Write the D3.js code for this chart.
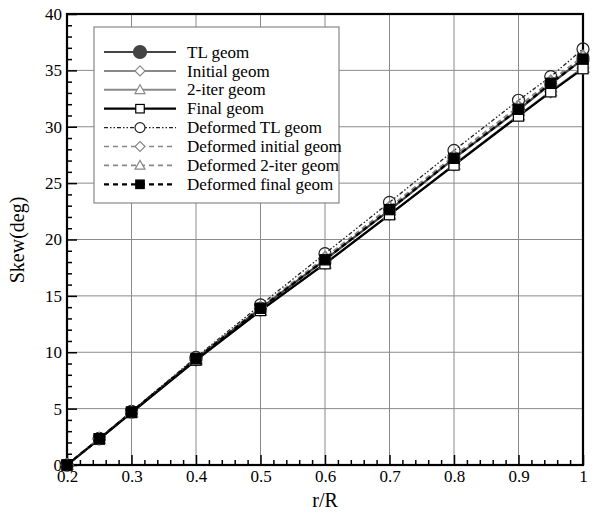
<!DOCTYPE html>
<html><head><meta charset="utf-8">
<script src="https://cdn.jsdelivr.net/npm/d3@7"></script>
<style>body{margin:0;background:#fff}svg{display:block}</style>
</head><body><svg id="c" width="601" height="522"></svg>
<script>
const rR = [0.2,0.25,0.3,0.4,0.5,0.6,0.7,0.8,0.9,0.95,1.0];
const tlGeom       = [0,2.33,4.70,9.42,13.90,18.20,22.60,27.20,31.50,33.80,36.00];
const initialGeom  = [0,2.30,4.65,9.30,13.70,17.85,22.20,26.60,31.00,33.10,35.20];
const iter2Geom    = [0,2.30,4.65,9.30,13.70,17.85,22.20,26.65,31.00,33.15,35.25];
const finalGeom    = [0,2.30,4.65,9.30,13.70,17.85,22.20,26.60,30.95,33.10,35.15];
const defTlGeom    = [0,2.36,4.76,9.55,14.20,18.75,23.30,27.90,32.35,34.45,36.90];
const defInitGeom  = [0,2.34,4.72,9.45,14.00,18.40,22.85,27.40,31.80,34.05,36.25];
const defIter2Geom = [0,2.34,4.72,9.45,14.00,18.40,22.85,27.40,31.80,34.05,36.25];
const defFinalGeom = [0,2.33,4.70,9.42,13.90,18.20,22.65,27.20,31.55,33.85,36.00];
const seriesNames = ["TL geom","Initial geom","2-iter geom","Final geom","Deformed TL geom","Deformed initial geom","Deformed 2-iter geom","Deformed final geom"];
const xTicks = [0.2,0.3,0.4,0.5,0.6,0.7,0.8,0.9,1];
const xTickLabels = ["0.2","0.3","0.4","0.5","0.6","0.7","0.8","0.9","1"];
const yTicks = [0,5,10,15,20,25,30,35,40];
const FONT = '"Liberation Serif","Times New Roman",Times,serif';

const series = [
  {name:seriesNames[0], v:tlGeom,      color:"#444", w:2.2, dash:null, m:"circle", fill:"#444"},
  {name:seriesNames[1], v:initialGeom, color:"#888", w:2, dash:null, m:"diamond", fill:"#fff"},
  {name:seriesNames[2], v:iter2Geom,   color:"#888", w:2, dash:null, m:"triangle", fill:"#fff"},
  {name:seriesNames[3], v:finalGeom,   color:"#000", w:2.2, dash:null, m:"square", fill:"#fff"},
  {name:seriesNames[4], v:defTlGeom,   color:"#222", w:1.3, dash:"4,2,1.5,2,1.5,2", m:"circle", fill:"none"},
  {name:seriesNames[5], v:defInitGeom, color:"#888", w:1.6, dash:"5,4", m:"diamond", fill:"#fff"},
  {name:seriesNames[6], v:defIter2Geom,color:"#888", w:1.6, dash:"5,4", m:"triangle", fill:"#fff"},
  {name:seriesNames[7], v:defFinalGeom,color:"#000", w:2.2, dash:"5,4", m:"square", fill:"#000"}
];

const L=67, R=583, T=14, B=465;
const x = d3.scaleLinear().domain([0.2,1]).range([L,R]);
const y = d3.scaleLinear().domain([0,40]).range([B,T]);
const svg = d3.select("#c");

// grid
svg.append("g").selectAll("line").data(xTicks.slice(1,-1)).join("line")
  .attr("x1",d=>x(d)).attr("x2",d=>x(d)).attr("y1",T).attr("y2",B)
  .attr("stroke","#8a8a8a").attr("stroke-width",1);
svg.append("g").selectAll("line").data(yTicks.slice(1,-1)).join("line")
  .attr("y1",d=>y(d)).attr("y2",d=>y(d)).attr("x1",L).attr("x2",R)
  .attr("stroke","#8a8a8a").attr("stroke-width",1);

// axes with inward ticks
const xAxis = d3.axisBottom(x).tickValues(xTicks).tickFormat((d,i)=>xTickLabels[i]).tickSizeInner(-10).tickSizeOuter(0);
const gx = svg.append("g").attr("transform",`translate(0,${B})`).call(xAxis);
const xMinor = d3.range(0.22,1.0,0.02).filter(v=>Math.abs(v*10-Math.round(v*10))>1e-6);
const gxm = svg.append("g").attr("transform",`translate(0,${B})`).call(d3.axisBottom(x).tickValues(xMinor).tickFormat("").tickSizeInner(-5).tickSizeOuter(0));
const yAxis = d3.axisLeft(y).tickValues(yTicks).tickSizeInner(-10).tickSizeOuter(0);
const gy = svg.append("g").attr("transform",`translate(${L},0)`).call(yAxis);
const yMinor = d3.range(1,40,1).filter(v=>v%5!==0);
const gym = svg.append("g").attr("transform",`translate(${L},0)`).call(d3.axisLeft(y).tickValues(yMinor).tickFormat("").tickSizeInner(-5).tickSizeOuter(0));
[gx,gxm,gy,gym].forEach(g=>{g.select(".domain").remove();g.selectAll("line").attr("stroke","#000").attr("stroke-width",1.5);});
[gx,gy].forEach(g=>g.attr("font-family",null).selectAll("text").style("font-family",FONT).attr("font-size",17).attr("fill","#000"));
gx.selectAll("text").attr("dy","0.71em").attr("y",5);
gy.selectAll("text").attr("x",-5);

// frame
svg.append("rect").attr("x",L).attr("y",T).attr("width",R-L).attr("height",B-T)
  .attr("fill","none").attr("stroke","#000").attr("stroke-width",2.2);

function marker(g,type,cx,cy,s,color,fill){
  if(type==="circle") g.append("circle").attr("cx",cx).attr("cy",cy).attr("r",s).attr("fill",fill).attr("stroke",color).attr("stroke-width",1.2);
  else if(type==="square") g.append("rect").attr("x",cx-s*0.85).attr("y",cy-s*0.85).attr("width",s*1.7).attr("height",s*1.7).attr("fill",fill).attr("stroke",color).attr("stroke-width",1.2);
  else if(type==="diamond") g.append("path").attr("d",`M${cx},${cy-s}L${cx+s},${cy}L${cx},${cy+s}L${cx-s},${cy}Z`).attr("fill",fill).attr("stroke",color).attr("stroke-width",1.2);
  else if(type==="triangle") g.append("path").attr("d",`M${cx},${cy-s}L${cx+s},${cy+s*0.75}L${cx-s},${cy+s*0.75}Z`).attr("fill",fill).attr("stroke",color).attr("stroke-width",1.2);
}

const line = d3.line().x((d,i)=>x(rR[i])).y(d=>y(d));
const plot = svg.append("g");
series.forEach(s=>{
  plot.append("path").attr("d",line(s.v)).attr("fill","none").attr("stroke",s.color)
    .attr("stroke-width",s.w).attr("stroke-dasharray",s.dash);
});
series.forEach(s=>{
  const g = plot.append("g");
  s.v.forEach((v,i)=>marker(g,s.m,x(rR[i]),y(v),6,s.color,s.fill));
});

// legend
const lg = svg.append("g");
lg.append("rect").attr("x",94).attr("y",27).attr("width",245).attr("height",176)
  .attr("fill","#fff").attr("stroke","#888").attr("stroke-width",1.2);
series.forEach((s,i)=>{
  const yy = 52 + i*18.9;
  lg.append("line").attr("x1",104).attr("x2",176).attr("y1",yy).attr("y2",yy)
    .attr("stroke",s.color).attr("stroke-width",s.w).attr("stroke-dasharray",s.dash);
  const ms = s.m==="circle" && s.fill!=="none" ? 6.5 : 5;
  marker(lg,s.m,140,yy,ms,s.color,s.fill==="none"?"#fff":s.fill);
  lg.append("text").attr("x",187).attr("y",yy).attr("dy","0.33em").attr("font-size",17).style("font-family",FONT).attr("fill","#000").text(s.name);
});

// axis titles
svg.append("text").attr("x",325).attr("y",507).attr("text-anchor","middle").attr("font-size",20).style("font-family",FONT).text("r/R");
svg.append("text").attr("transform","translate(24,240) rotate(-90)").attr("text-anchor","middle").attr("font-size",20).style("font-family",FONT).text("Skew(deg)");
</script></body></html>
